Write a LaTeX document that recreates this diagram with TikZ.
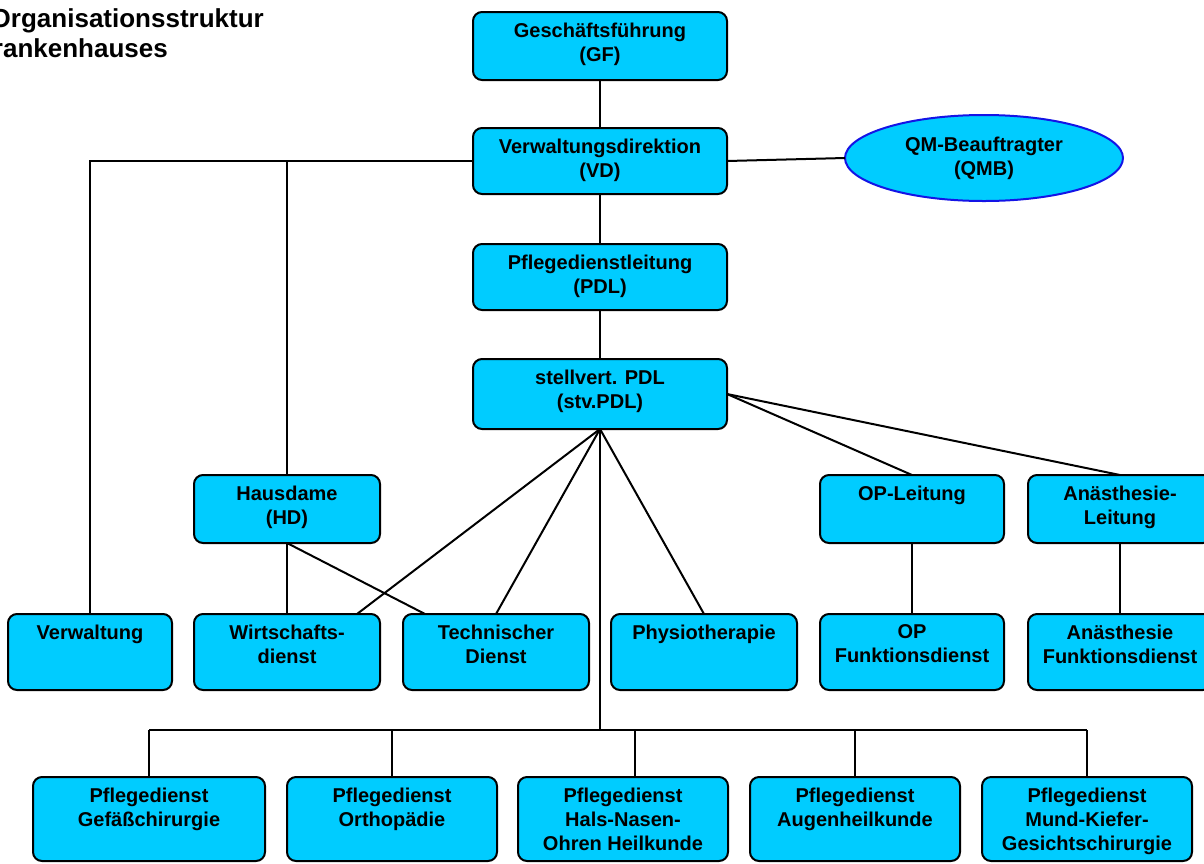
\documentclass[tikz,border=0pt]{standalone}
\usepackage{fontspec}
\setmainfont{Liberation Sans}
\usetikzlibrary{shapes.geometric,calc}
\definecolor{boxc}{RGB}{0,204,255}
\definecolor{qmbline}{RGB}{20,20,230}
\newcommand{\tb}[3]{\parbox[c][#2pt][t]{#1pt}{\centering\vspace*{11pt}#3}}
\tikzset{
  box/.style={draw=black, line width=2pt, fill=boxc, rounded corners=9pt, inner sep=0pt, outer sep=0pt, font=\fontsize{20}{24}\selectfont\bfseries},
  qmb/.style={ellipse, draw=qmbline, line width=2pt, fill=boxc, inner sep=0pt, outer sep=0pt, minimum width=278pt, minimum height=86pt, align=center, font=\fontsize{20}{24}\selectfont\bfseries},
  conn/.style={draw=black, line width=2pt},
  ttl/.style={inner sep=0pt, font=\fontsize{26}{30}\selectfont\bfseries}
}
\begin{document}
\begin{tikzpicture}[x=1pt,y=-1pt]
\useasboundingbox (0,0) rectangle (1204,863);
\clip (0,0) rectangle (1204,863);
% title
\node[ttl, anchor=base east] (t1) at (264,27) {Organisationsstruktur};
\node[ttl, anchor=base east] (t2) at (168,57) {Krankenhauses};
% boxes
\node[box] (GF) at (600,46) {\tb{254}{68}{Geschäftsführung\\(GF)}};
\node[box] (VD) at (600,161) {\tb{254}{66}{Verwaltungsdirektion\\(VD)}};
\node[box] (PDL) at (600,277) {\tb{254}{66}{Pflegedienstleitung\\(PDL)}};
\node[box] (STV) at (600,394) {\tb{254}{70}{stellvert. PDL\\(stv.PDL)}};
\node[qmb] (QMB) at (984,158) {QM-Beauftragter\\(QMB)};
\node[box] (HD) at (287,509) {\tb{186}{68}{Hausdame\\(HD)}};
\node[box] (OPL) at (912,509) {\tb{184}{68}{OP-Leitung}};
\node[box] (ANL) at (1120,509) {\tb{184}{68}{Anästhesie-\\Leitung}};
\node[box] (VW) at (90,652) {\tb{164}{76}{Verwaltung}};
\node[box] (WD) at (287,652) {\tb{186}{76}{Wirtschafts-\\dienst}};
\node[box] (TD) at (496,652) {\tb{186}{76}{Technischer\\Dienst}};
\node[box] (PH) at (704,652) {\tb{186}{76}{Physiotherapie}};
\node[box] (OPF) at (912,652) {\tb{184}{76}{OP\\Funktionsdienst}};
\node[box] (ANF) at (1120,652) {\tb{184}{76}{Anästhesie\\Funktionsdienst}};
\node[box] (B1) at (149,819) {\tb{232}{84}{Pflegedienst\\Gefäßchirurgie}};
\node[box] (B2) at (392,819) {\tb{210}{84}{Pflegedienst\\Orthopädie}};
\node[box] (B3) at (623,819) {\tb{210}{84}{Pflegedienst\\Hals-Nasen-\\Ohren Heilkunde}};
\node[box] (B4) at (855,819) {\tb{210}{84}{Pflegedienst\\Augenheilkunde}};
\node[box] (B5) at (1087,819) {\tb{210}{84}{Pflegedienst\\Mund-Kiefer-\\Gesichtschirurgie}};
% connectors
\coordinate (bus) at (600,730);
\draw[conn] (GF.south) -- (VD.north);
\draw[conn] (VD.south) -- (PDL.north);
\draw[conn] (PDL.south) -- (STV.north);
\draw[conn] (VD.east) -- (QMB.west);
\draw[conn] (VD.west) -- (VD.west -| VW.north) -- (VW.north);
\draw[conn] (VD.west -| HD.north) -- (HD.north);
\draw[conn] (HD.south) -- (WD.north);
\draw[conn] (HD.south) -- ($(TD.north)+(-71,0)$);
\draw[conn] (STV.south) -- ($(WD.north)+(70,0)$);
\draw[conn] (STV.south) -- (TD.north);
\draw[conn] (STV.south) -- (PH.north);
\draw[conn] (STV.east) -- (OPL.north);
\draw[conn] (STV.east) -- (ANL.north);
\draw[conn] (OPL.south) -- (OPF.north);
\draw[conn] (ANL.south) -- (ANF.north);
\draw[conn] (STV.south) -- (bus);
\draw[conn] (bus -| B1.north) -- (bus -| B5.north);
\draw[conn] (bus -| B1.north) -- (B1.north);
\draw[conn] (bus -| B2.north) -- (B2.north);
\draw[conn] ($(bus -| B3.north)+(12,0)$) -- ($(B3.north)+(12,0)$);
\draw[conn] (bus -| B4.north) -- (B4.north);
\draw[conn] (bus -| B5.north) -- (B5.north);
\end{tikzpicture}
\end{document}
